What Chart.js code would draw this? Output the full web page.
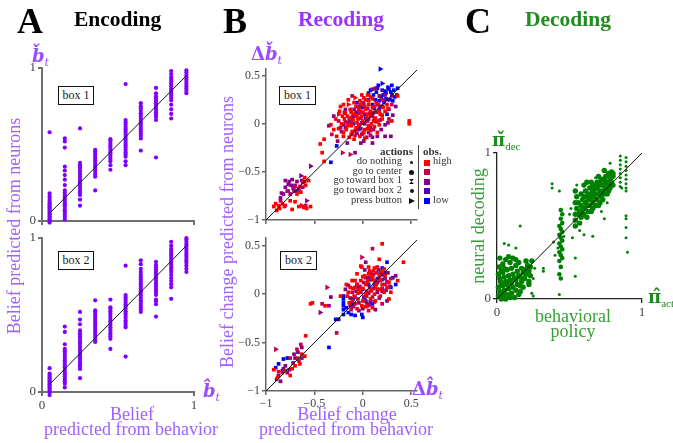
<!DOCTYPE html>
<html>
<head>
<meta charset="utf-8">
<script src="https://cdn.jsdelivr.net/npm/chart.js@4/dist/chart.umd.min.js"></script>
<style>
body { margin: 0; width: 673px; height: 443px; position: relative; overflow: hidden; background: #fff;
       font-family: "Liberation Serif", "DejaVu Serif", serif; }
canvas { position: absolute; left: 0; top: 0; }
.t { position: absolute; white-space: nowrap; line-height: 1; }
.title { font-weight: bold; font-size: 21.5px; }
.letter { font-weight: bold; font-size: 36px; }
.lab { font-size: 18px; }
.cx { transform: translateX(-50%); }
.rot { transform: translate(-50%, -50%) rotate(-90deg); }
.violet { color: #a062fb; }
.green { color: #35a035; }
.math { font-family: "DejaVu Serif", serif; font-weight: bold; font-style: italic; font-size: 18px; }
.math sub { font-size: 11px; font-style: italic; font-weight: normal; vertical-align: -4px; }
.boxlab { position: absolute; border: 1.2px solid #111; font-size: 12px; line-height: 17px; height: 19px;
          text-align: center; box-sizing: border-box; background: #fff; color: #222; }
.leg { position: absolute; font-size: 10.5px; line-height: 1; color: #333; white-space: nowrap; }
.mk { position: absolute; background: #111; }
</style>
</head>
<body>
<canvas id="encBox1" width="673" height="443"></canvas>
<canvas id="encBox2" width="673" height="443"></canvas>
<canvas id="recBox1" width="673" height="443"></canvas>
<canvas id="recBox2" width="673" height="443"></canvas>
<canvas id="decoding" width="673" height="443"></canvas>

<div class="t letter" style="left:17px;top:3px">A</div>
<div class="t title" style="left:74px;top:9px">Encoding</div>
<div class="t letter" style="left:223px;top:3px">B</div>
<div class="t title" style="left:298px;top:9px;color:#9933ff">Recoding</div>
<div class="t letter" style="left:465px;top:3px">C</div>
<div class="t title" style="left:525px;top:9px;color:#228b22">Decoding</div>

<div class="t lab violet rot" style="left:14px;top:226px">Belief predicted from neurons</div>
<div class="t lab violet cx" style="left:132px;top:405px">Belief</div>
<div class="t lab violet cx" style="left:131px;top:420px">predicted from behavior</div>
<div class="t lab violet rot" style="left:227px;top:232px">Belief change predicted from neurons</div>
<div class="t lab violet cx" style="left:347px;top:405px">Belief change</div>
<div class="t lab violet cx" style="left:346px;top:420px">predicted from behavior</div>
<div class="t lab green rot" style="left:478px;top:226px">neural decoding</div>
<div class="t lab green cx" style="left:573px;top:307px">behavioral</div>
<div class="t lab green cx" style="left:573px;top:322px">policy</div>

<div class="t math" style="left:32px;top:47px;color:#9a4dff">b̌<sub>t</sub></div>
<div class="t math" style="left:203px;top:382px;color:#9a4dff">b̂<sub>t</sub></div>
<div class="t math" style="left:251px;top:45px;color:#9a4dff"><span style="font-style:normal">Δ</span>b̌<sub>t</sub></div>
<div class="t math" style="left:412px;top:380px;color:#9a4dff"><span style="font-style:normal">Δ</span>b̂<sub>t</sub></div>
<div class="t math" style="left:492px;top:131px;color:#1d8a1d;font-style:normal">π̌<sub style="font-style:normal;font-family:'Liberation Serif'">dec</sub></div>
<div class="t math" style="left:648px;top:288px;color:#1d8a1d;font-style:normal">π̂<sub style="font-style:normal;font-family:'Liberation Serif'">act</sub></div>

<div class="boxlab" style="left:58px;top:86px;width:36px">box 1</div>
<div class="boxlab" style="left:58px;top:251px;width:36px">box 2</div>
<div class="boxlab" style="left:279px;top:86px;width:37px">box 1</div>
<div class="boxlab" style="left:280px;top:251px;width:37px">box 2</div>

<div class="leg" style="right:260px;top:146px;font-weight:bold;font-size:11px">actions</div>
<div class="leg" style="right:271px;top:155.5px">do nothing</div>
<div class="leg" style="right:271px;top:165.5px">go to center</div>
<div class="leg" style="right:271px;top:174.5px">go toward box 1</div>
<div class="leg" style="right:271px;top:184.5px">go toward box 2</div>
<div class="leg" style="right:271px;top:194.5px">press button</div>
<div class="mk" style="left:410px;top:161px;width:3px;height:3px;border-radius:50%"></div>
<div class="mk" style="left:409px;top:169.5px;width:5px;height:5px;border-radius:50%"></div>
<div class="mk" style="left:409px;top:179px;width:5px;height:5px;clip-path:polygon(0 0,100% 0,50% 50%,100% 100%,0 100%,50% 50%)"></div>
<div class="mk" style="left:409.5px;top:188.5px;width:4px;height:4px;border-radius:50%"></div>
<div class="mk" style="left:409px;top:198px;width:6px;height:6px;clip-path:polygon(0 0,100% 50%,0 100%)"></div>
<div class="mk" style="left:418px;top:145px;width:1.2px;height:64px;background:#444"></div>
<div class="leg" style="left:423px;top:146px;font-weight:bold;font-size:11px">obs.</div>
<div class="mk" style="left:424px;top:159.5px;width:6px;height:6px;background:#ff0000"></div>
<div class="mk" style="left:424px;top:169px;width:6px;height:6px;background:#c4004f"></div>
<div class="mk" style="left:424px;top:178.5px;width:6px;height:6px;background:#880088"></div>
<div class="mk" style="left:424px;top:187.5px;width:6px;height:6px;background:#5000cc"></div>
<div class="mk" style="left:424px;top:198px;width:6px;height:6px;background:#0000ff"></div>
<div class="leg" style="left:433px;top:155.5px">high</div>
<div class="leg" style="left:433px;top:194.5px">low</div>

<script>
// ---- A: belief from behaviour (columns) vs belief from neurons ----
const encColumns = [0.05, 0.15, 0.25, 0.35, 0.45, 0.55, 0.65, 0.75, 0.85, 0.95];
const encBox1Y = [
    [-0.01, 0, 0.01, 0.02, 0.03, 0.04, 0.05, 0.06, 0.07, 0.08, 0.09, 0.1, 0.11, 0.12, 0.13, 0.145, 0.16, 0.18, 0.58],
    [0.01, 0.03, 0.045, 0.06, 0.07, 0.085, 0.1, 0.11, 0.125, 0.14, 0.155, 0.17, 0.185, 0.2, 0.235, 0.27, 0.3, 0.33, 0.355, 0.48, 0.52, 0.54],
    [0.1, 0.14, 0.17, 0.185, 0.2, 0.215, 0.23, 0.245, 0.26, 0.275, 0.29, 0.305, 0.32, 0.335, 0.35, 0.365, 0.38, 0.605],
    [0.2, 0.29, 0.305, 0.32, 0.335, 0.35, 0.365, 0.38, 0.395, 0.41, 0.425, 0.44, 0.455, 0.465],
    [0.335, 0.365, 0.39, 0.405, 0.42, 0.435, 0.45, 0.465, 0.48, 0.495, 0.51, 0.525, 0.535],
    [0.365, 0.39, 0.42, 0.435, 0.45, 0.465, 0.48, 0.495, 0.51, 0.525, 0.54, 0.555, 0.57, 0.585, 0.6, 0.615, 0.63, 0.645, 0.66, 0.895],
    [0.46, 0.54, 0.555, 0.57, 0.585, 0.6, 0.615, 0.63, 0.645, 0.66, 0.675, 0.69, 0.705, 0.72, 0.735, 0.75, 0.77],
    [0.415, 0.66, 0.68, 0.695, 0.71, 0.725, 0.74, 0.755, 0.77, 0.785, 0.8, 0.815, 0.835, 0.87],
    [0.67, 0.7, 0.73, 0.76, 0.79, 0.805, 0.82, 0.835, 0.85, 0.865, 0.88, 0.895, 0.91, 0.925, 0.94, 0.96, 0.98],
    [0.835, 0.85, 0.865, 0.88, 0.895, 0.91, 0.925, 0.94, 0.955, 0.97, 0.985]
];
const encBox2Y = [
    [-0.02, -0.005, 0.01, 0.02, 0.03, 0.04, 0.05, 0.06, 0.07, 0.08, 0.09, 0.1, 0.11, 0.12, 0.155],
    [0.03, 0.054, 0.07, 0.085, 0.1, 0.115, 0.13, 0.145, 0.16, 0.175, 0.19, 0.205, 0.22, 0.235, 0.25, 0.265, 0.28, 0.31, 0.39, 0.425],
    [0.09, 0.15, 0.165, 0.18, 0.195, 0.21, 0.225, 0.24, 0.255, 0.27, 0.285, 0.3, 0.315, 0.33, 0.345, 0.36, 0.375, 0.39, 0.4, 0.44, 0.47, 0.52],
    [0.325, 0.34, 0.355, 0.37, 0.385, 0.4, 0.415, 0.43, 0.445, 0.46, 0.475, 0.49, 0.505, 0.52, 0.53, 0.595],
    [0.28, 0.345, 0.36, 0.375, 0.39, 0.405, 0.42, 0.435, 0.45, 0.465, 0.48, 0.495, 0.51, 0.525, 0.54, 0.55, 0.6],
    [0.23, 0.42, 0.435, 0.45, 0.465, 0.48, 0.495, 0.51, 0.525, 0.54, 0.555, 0.57, 0.585, 0.6, 0.615, 0.63, 0.82],
    [0.52, 0.535, 0.55, 0.565, 0.58, 0.595, 0.61, 0.625, 0.64, 0.655, 0.67, 0.685, 0.7, 0.715, 0.73, 0.745, 0.76, 0.78, 0.8, 0.83, 0.855],
    [0.49, 0.57, 0.59, 0.6, 0.63, 0.645, 0.66, 0.675, 0.69, 0.705, 0.72, 0.735, 0.75, 0.765, 0.78, 0.795, 0.81, 0.825, 0.845],
    [0.605, 0.68, 0.7, 0.72, 0.74, 0.76, 0.78, 0.795, 0.81, 0.825, 0.84, 0.855, 0.87, 0.885, 0.9, 0.915, 0.93, 0.95, 0.975],
    [0.78, 0.8, 0.82, 0.84, 0.855, 0.87, 0.885, 0.9, 0.915, 0.93, 0.945, 0.96, 0.975, 0.99, 1.0]
];
const encDiagonal = [0.05, 0.95];
const unitTicks = [0, 1];

// ---- B: belief change, points are [x, y] or [x, y, 4] for "press button" ----
const box1High = [[-0.23, 0.18], [-0.21, 0.08], [-0.18, 0.11], [-0.13, 0.15], [-0.09, 0.22], [-0.08, 0.27, 4], [-0.01, 0.3],
    [0.03, 0.25], [-0.04, 0.15], [-0.01, 0.08], [0.06, 0.2], [0.1, 0.17], [0.18, 0.1], [0.23, 0.13], [0.36, 0.29], [0.3, 0.03],
    [0.48, 0.03], [0.48, 0.0], [-0.16, -0.02], [-0.11, -0.08], [-0.06, 0.01], [-0.2, -0.09], [-0.14, -0.14], [-0.09, -0.16],
    [-0.27, -0.13], [-0.3, -0.06], [-0.33, -0.01], [-0.4, -0.16], [-0.44, -0.21], [-0.4, -0.39], [0.06, -0.02], [0.11, 0.03],
    [0.17, -0.01], [0.15, -0.09], [-0.13, 0.06], [0.03, 0.15], [0.08, 0.08], [-0.42, -0.3], [-0.05, 0.05], [0.0, 0.12],
    [0.05, 0.1], [-0.1, 0.1], [0.12, 0.12], [-0.07, -0.04], [0.02, -0.06], [0.2, 0.05], [0.25, 0.2], [-0.15, 0.2, 4],
    [-0.25, 0.1, 4], [0.14, 0.22], [-0.02, 0.2], [0.08, 0.28, 4], [-0.12, -0.02],
    [-0.25, -0.05], [-0.22, 0.0], [-0.19, 0.05], [-0.16, 0.08], [-0.12, 0.12], [-0.07, 0.18], [-0.03, 0.24], [0.01, 0.27],
    [0.05, 0.3], [-0.2, -0.13], [-0.17, -0.06], [-0.14, -0.01], [-0.1, 0.04], [-0.06, 0.09], [-0.02, 0.13], [0.02, 0.18],
    [0.06, 0.24], [0.1, 0.26], [-0.12, -0.11], [-0.08, -0.07], [-0.04, -0.02], [0.0, 0.03], [0.04, 0.07], [0.08, 0.13],
    [0.12, 0.18], [0.16, 0.2], [-0.03, -0.13], [0.01, -0.09], [0.05, -0.05], [0.09, 0.0], [0.13, 0.06], [0.17, 0.13],
    [0.21, 0.17], [0.02, -0.15], [0.08, -0.07], [0.12, -0.03], [0.16, 0.03], [0.2, 0.09], [0.26, 0.16], [-0.28, 0.05],
    [-0.24, 0.13], [-0.2, 0.2], [-0.15, 0.25],
    [-0.56, -0.59], [-0.59, -0.64], [-0.64, -0.71], [-0.68, -0.73], [-0.9, -0.83], [-0.87, -0.85], [-0.83, -0.83],
    [-0.89, -0.9], [-0.73, -0.89], [-0.61, -0.87], [-0.58, -0.88], [-0.54, -0.86], [-0.7, -0.81], [-0.62, -0.61], [-0.75, -0.8],
    [-0.86, -0.88], [-0.81, -0.86], [-0.66, -0.86], [-0.92, -0.86], [-0.6, -0.56], [-0.65, -0.65]];
const box1MidHigh = [[-0.13, -0.32, 4], [-0.21, -0.3, 4], [-0.11, 0.29], [0.2, 0.25], [-0.25, 0.03], [0.0, -0.1], [0.12, 0.05],
    [-0.05, 0.18], [0.27, 0.05], [-0.32, -0.11], [0.08, -0.12], [-0.63, -0.85, 4], [-0.59, -0.85], [-0.8, -0.85], [-0.85, -0.8],
    [-0.7, -0.66, 4], [-0.77, -0.7], [-0.6, -0.6], [0.3, 0.2], [-0.18, 0.02], [0.04, 0.03],
    [-0.12, 0.02], [-0.02, 0.06], [0.07, 0.11], [0.14, 0.02], [-0.08, -0.12], [0.0, 0.22], [-0.19, 0.12]];
const box1Mid = [[-0.3, 0.08], [-0.2, -0.01], [-0.14, 0.04], [-0.08, 0.08], [-0.04, -0.06], [-0.01, -0.11], [0.01, -0.18],
    [-0.02, -0.2], [0.06, -0.09], [0.1, -0.14], [0.15, -0.13], [0.23, -0.13], [0.29, -0.13], [0.13, 0.37], [0.1, 0.36],
    [0.17, 0.29], [0.23, 0.3], [0.3, 0.29], [0.34, 0.18], [-0.18, 0.15], [-0.23, -0.04], [-0.08, -0.3], [-0.35, -0.02],
    [-0.09, 0.15], [-0.01, 0.01], [0.05, 0.03], [-0.04, 0.11], [0.08, -0.04], [0.18, 0.04], [0.23, -0.01], [0.27, 0.15],
    [-0.22, -0.08], [-0.18, -0.04], [-0.15, 0.01], [-0.11, 0.07], [-0.07, 0.12], [-0.03, 0.17], [0.01, 0.21], [0.05, 0.16],
    [-0.06, -0.1], [-0.02, -0.05], [0.02, 0.0], [0.06, 0.05], [0.1, 0.08], [0.14, 0.12], [0.18, 0.18], [0.22, 0.24],
    [0.04, -0.14], [0.11, -0.06], [0.19, -0.06], [0.26, 0.01], [0.31, 0.09], [-0.26, -0.18], [-0.16, -0.2], [0.1, -0.2],
    [-0.8, -0.59], [-0.77, -0.63], [-0.73, -0.58], [-0.7, -0.64], [-0.71, -0.7], [-0.66, -0.68], [-0.63, -0.59],
    [-0.64, -0.54, 4], [-0.78, -0.7], [-0.75, -0.73], [-0.82, -0.73], [-0.85, -0.77], [-0.54, -0.44, 4], [-0.58, -0.8, 4],
    [-0.68, -0.6], [-0.76, -0.6], [-0.72, -0.67], [-0.68, -0.7], [-0.8, -0.66], [-0.84, -0.72], [-0.74, -0.64], [-0.62, -0.66]];
const box1MidLow = [[0.02, 0.1], [0.15, 0.2], [-0.1, 0.0], [0.25, 0.25], [0.2, 0.35], [-0.06, 0.12]];
const box1Low = [[0.06, 0.32], [0.15, 0.37], [0.2, 0.42, 4], [0.27, 0.36], [0.32, 0.35], [0.36, 0.37], [0.13, 0.25], [0.22, 0.22],
    [0.17, 0.15], [0.1, 0.11], [0.0, 0.17], [-0.06, 0.22], [0.25, 0.1], [0.03, 0.06], [-0.04, -0.01], [0.18, 0.57, 4],
    [-0.33, -0.4], [-0.27, -0.23], [0.3, 0.3], [0.24, 0.32], [0.19, 0.28], [0.28, 0.25], [0.1, 0.2], [0.33, 0.28],
    [0.08, 0.35], [0.11, 0.3], [0.14, 0.33], [0.17, 0.24], [0.21, 0.3], [0.24, 0.26], [0.26, 0.38], [0.29, 0.33], [0.31, 0.24],
    [0.35, 0.3], [0.2, 0.18], [0.12, 0.16], [0.23, 0.34], [0.05, 0.25], [0.16, 0.4], [0.3, 0.4]];

const box2High = [[-0.01, 0.28], [-0.02, 0.29], [0.2, 0.52], [0.42, 0.33], [0.17, 0.36], [0.06, 0.21], [0.17, 0.19], [0.22, 0.26],
    [0.11, 0.24], [-0.08, 0.14], [-0.13, 0.07], [-0.04, 0.05], [0.03, 0.1], [0.13, 0.07], [0.2, 0.1], [0.25, 0.07], [0.29, 0.02],
    [-0.16, -0.02], [-0.11, -0.07], [-0.01, -0.12], [0.06, -0.17], [0.13, -0.07], [0.18, -0.02], [-0.23, -0.02], [-0.52, -0.09],
    [-0.54, -0.1], [-0.39, -0.12], [-0.06, 0.21], [0.03, 0.0], [0.08, 0.03], [0.36, 0.14], [0.27, -0.05], [0.1, 0.15],
    [-0.05, -0.05], [0.15, 0.28], [0.0, 0.18],
    [-0.15, 0.02], [-0.1, 0.06], [-0.06, 0.1], [-0.02, 0.14], [0.02, 0.19], [0.07, 0.24], [0.12, 0.27], [-0.14, -0.09],
    [-0.09, -0.02], [-0.05, 0.01], [0.0, 0.06], [0.05, 0.14], [0.09, 0.19], [0.14, 0.22], [0.19, 0.23], [-0.06, -0.15],
    [0.0, -0.07], [0.04, -0.02], [0.09, 0.04], [0.14, 0.1], [0.18, 0.15], [0.23, 0.19], [0.27, 0.12], [0.03, -0.13],
    [0.08, -0.05], [0.12, 0.0], [0.17, 0.05], [0.22, 0.02], [0.1, -0.14], [-0.17, 0.1], [-0.11, 0.14], [0.06, 0.28],
    [-0.59, -0.43], [-0.75, -0.84], [-0.92, -0.78], [-0.7, -0.74], [-0.63, -0.62], [-0.8, -0.79], [-0.88, -0.86], [-0.67, -0.66],
    [-0.87, -0.8], [-0.73, -0.77], [-0.65, -0.72], [-0.6, -0.64]];
const box2MidHigh = [[-0.11, 0.02], [-0.02, 0.02], [0.1, -0.03], [0.23, 0.1], [0.1, 0.16], [-0.01, 0.38, 4], [0.1, 0.47],
    [-0.37, 0.07, 4], [-0.42, -0.1], [-0.27, -0.4], [-0.08, -0.1], [0.2, -0.1], [0.29, 0.16], [-0.9, -0.57, 4], [-0.64, -0.52],
    [-0.68, -0.57], [-0.75, -0.66], [-0.66, -0.69], [-0.83, -0.81], [0.05, 0.12], [0.15, 0.05],
    [-0.08, 0.07], [0.04, 0.03], [0.13, 0.14], [0.2, 0.06], [-0.12, -0.16], [0.08, 0.22], [0.25, 0.13], [0.05, -0.12]];
const box2Mid = [[-0.08, -0.03], [0.01, -0.03], [0.04, -0.09], [0.15, 0.02], [0.2, 0.03], [0.23, 0.16], [0.18, 0.14], [0.03, 0.17],
    [0.03, 0.33], [-0.04, -0.17], [-0.13, -0.12], [0.25, -0.07], [-0.33, -0.03], [-0.35, -0.12], [-0.44, -0.19, 4], [-0.18, 0.05],
    [0.13, -0.16], [0.34, 0.19], [0.07, 0.07], [-0.06, 0.1],
    [-0.13, -0.04], [-0.07, 0.03], [-0.03, 0.08], [0.01, 0.12], [0.06, 0.17], [0.11, 0.2], [0.16, 0.25], [-0.1, -0.13],
    [-0.04, -0.09], [0.02, -0.05], [0.06, 0.01], [0.11, 0.06], [0.15, 0.12], [0.2, 0.15], [0.26, 0.22], [0.0, -0.15],
    [0.07, -0.11], [0.12, -0.08], [0.17, -0.04], [0.24, 0.04], [0.28, 0.08], [-0.15, 0.09], [0.02, 0.25],
    [-0.63, -0.55], [-0.71, -0.62], [-0.63, -0.66], [-0.72, -0.71], [-0.8, -0.74], [-0.76, -0.78], [-0.87, -0.84], [-0.89, -0.88],
    [-0.78, -0.81], [-0.85, -0.9], [-0.7, -0.66], [-0.67, -0.6], [-0.82, -0.77]];
const box2MidLow = [[0.0, 0.05], [0.12, 0.1], [-0.1, -0.05], [0.2, 0.2], [0.08, -0.08]];
const box2Low = [[-0.2, -0.05], [-0.2, -0.09], [-0.2, -0.12], [-0.2, -0.16], [-0.2, -0.21], [-0.28, -0.26], [-0.25, -0.26],
    [-0.15, -0.19], [-0.08, -0.22], [-0.01, -0.21], [-0.11, -0.1], [-0.04, 0.07], [0.06, 0.1], [0.13, 0.12], [0.18, 0.21],
    [0.25, 0.33], [0.23, 0.22], [0.34, 0.1], [0.03, -0.07], [0.1, -0.1], [-0.35, -0.55], [-0.82, -0.67], [-0.78, -0.66],
    [-0.9, -0.76], [-0.87, -0.72], [-0.83, -0.79],
    [-0.2, -0.02], [-0.17, -0.14], [-0.12, -0.21], [0.0, -0.24], [0.15, 0.16], [0.2, 0.27], [0.08, 0.15], [0.29, 0.07], [0.31, 0.17]];
const recDiagonal = [-1, 0.6];
const recTicks = [-1, -0.5, 0, 0.5];

// ---- C: behavioural policy vs neural decoding ----
const decLowBlob = [[0.01, 0.02], [0.02, 0.05], [0.01, 0.08], [0.03, 0.11], [0.02, 0.14], [0.01, 0.17], [0.03, 0.19], [0.04, 0.02],
    [0.05, 0.06], [0.04, 0.09], [0.06, 0.12], [0.05, 0.15], [0.04, 0.18], [0.07, 0.03], [0.08, 0.07], [0.07, 0.1], [0.09, 0.13],
    [0.08, 0.16], [0.07, 0.2], [0.1, 0.04], [0.11, 0.08], [0.1, 0.11], [0.12, 0.14], [0.11, 0.17], [0.1, 0.21], [0.13, 0.06],
    [0.14, 0.1], [0.13, 0.13], [0.15, 0.16], [0.14, 0.19], [0.13, 0.23], [0.16, 0.09], [0.17, 0.12], [0.16, 0.15], [0.18, 0.18],
    [0.17, 0.21], [0.19, 0.14], [0.2, 0.17], [0.19, 0.2], [0.21, 0.23], [0.2, 0.26], [0.22, 0.12], [0.22, 0.19], [0.23, 0.22],
    [0.24, 0.26], [0.22, 0.1], [0.23, 0.16], [0.02, 0.28], [0.04, 0.24], [0.06, 0.27], [0.09, 0.25], [0.11, 0.28], [0.12, 0.01],
    [0.15, 0.03], [0.06, 0.0], [0.09, 0.01], [0.03, 0.0], [0.015, 0.22], [0.05, 0.21], [0.16, 0.05], [0.18, 0.08], [0.08, 0.29],
    [0.13, 0.27], [0.15, 0.25], [0.025, 0.12], [0.045, 0.04]];
const decMidColumn = [[0.44, 0.14], [0.43, 0.17], [0.44, 0.22], [0.43, 0.26], [0.45, 0.28], [0.44, 0.3], [0.43, 0.32], [0.45, 0.34],
    [0.44, 0.36], [0.43, 0.38], [0.45, 0.4], [0.44, 0.42], [0.43, 0.44], [0.45, 0.46], [0.44, 0.48], [0.43, 0.5], [0.45, 0.52],
    [0.44, 0.55], [0.45, 0.58], [0.44, 0.61]];
const decHighCluster = [[0.54, 0.5], [0.54, 0.54], [0.54, 0.58], [0.55, 0.62], [0.54, 0.66], [0.55, 0.7], [0.54, 0.74], [0.57, 0.52],
    [0.58, 0.56], [0.57, 0.6], [0.58, 0.64], [0.59, 0.68], [0.6, 0.58], [0.6, 0.62], [0.61, 0.66], [0.62, 0.7], [0.61, 0.74],
    [0.63, 0.6], [0.64, 0.64], [0.63, 0.68], [0.65, 0.72], [0.64, 0.76], [0.66, 0.66], [0.67, 0.7], [0.66, 0.74], [0.68, 0.78],
    [0.69, 0.68], [0.7, 0.72], [0.69, 0.76], [0.71, 0.8], [0.72, 0.7], [0.73, 0.74], [0.72, 0.78], [0.74, 0.82], [0.75, 0.76],
    [0.76, 0.8], [0.75, 0.84], [0.77, 0.78], [0.78, 0.82], [0.77, 0.86], [0.79, 0.8], [0.8, 0.84], [0.79, 0.87], [0.6, 0.78],
    [0.62, 0.8], [0.65, 0.8], [0.7, 0.84], [0.74, 0.88], [0.58, 0.72], [0.56, 0.66], [0.66, 0.62], [0.7, 0.64], [0.73, 0.68],
    [0.76, 0.72], [0.62, 0.56], [0.65, 0.6], [0.68, 0.64], [0.71, 0.66], [0.78, 0.76], [0.8, 0.78],
    [0.6, 0.7], [0.63, 0.72], [0.66, 0.78], [0.69, 0.8], [0.72, 0.82], [0.75, 0.8], [0.78, 0.84], [0.8, 0.86], [0.67, 0.75],
    [0.7, 0.78], [0.73, 0.78], [0.76, 0.76], [0.62, 0.64], [0.65, 0.68], [0.68, 0.72], [0.71, 0.74], [0.74, 0.72], [0.77, 0.74],
    [0.64, 0.7], [0.59, 0.62], [0.56, 0.58], [0.58, 0.6]];
const decRightColumns = [[0.85, 0.98], [0.85, 0.95], [0.85, 0.92], [0.85, 0.89], [0.85, 0.86], [0.85, 0.83], [0.85, 0.8], [0.85, 0.77],
    [0.89, 0.97], [0.89, 0.94], [0.89, 0.91], [0.89, 0.88], [0.89, 0.85], [0.89, 0.82], [0.89, 0.79], [0.89, 0.76], [0.89, 0.74],
    [0.86, 0.76], [0.89, 0.57], [0.89, 0.55], [0.89, 0.49], [0.89, 0.42], [0.9, 0.32]];
const decScatter = [[0.16, 0.5], [0.05, 0.38], [0.08, 0.37], [0.13, 0.35], [0.24, 0.04], [0.25, 0.02], [0.32, 0.21], [0.32, 0.19],
    [0.26, 0.21], [0.25, 0.14], [0.43, 0.74], [0.43, 0.03], [0.38, 0.79], [0.38, 0.76], [0.4, 0.3], [0.39, 0.39], [0.42, 0.35],
    [0.46, 0.43], [0.55, 0.78], [0.68, 0.83], [0.78, 0.93], [0.74, 0.55], [0.66, 0.43], [0.6, 0.44], [0.52, 0.42], [0.54, 0.28],
    [0.54, 0.155], [0.72, 0.6], [0.76, 0.66], [0.5, 0.58], [0.51, 0.62], [0.57, 0.47]];
const decDiagonal = [0, 1];

const serif = '"Liberation Serif", "DejaVu Serif", serif';
const obsColors = ['#ff0000', '#c4004f', '#880088', '#5000cc', '#0000ff'];
const yAxisWidth = 36;
const xAxisHeight = 22;

function axis(position, range, ticks, showLabels, look) {
    return {
        type: 'linear',
        position: position,
        min: range[0],
        max: range[1],
        afterFit: function (scale) {
            if (position === 'left') {
                scale.width = yAxisWidth;
            } else {
                scale.height = xAxisHeight;
            }
        },
        afterBuildTicks: function (scale) {
            scale.ticks = ticks.map(v => ({value: v}));
        },
        grid: {drawOnChartArea: false, drawTicks: true, tickLength: 4, color: look.color, lineWidth: look.width},
        border: {display: true, color: look.color, width: look.width},
        ticks: {
            padding: 2,
            autoSkip: false,
            maxRotation: 0,
            color: '#444',
            font: {family: serif, size: look.font},
            callback: v => showLabels ? String(v).replace('-', '\u2212') : ''
        }
    };
}

function diagonalSet(ends) {
    return {
        data: ends.map(v => ({x: v, y: v})),
        showLine: true,
        borderColor: '#111',
        borderWidth: 1,
        pointRadius: 0
    };
}

function drawPanel(id, area, xRange, yRange, xTicks, yTicks, showX, look, datasets) {
    const canvas = document.getElementById(id);
    new Chart(canvas, {
        type: 'scatter',
        data: {datasets: datasets},
        options: {
            responsive: false,
            animation: false,
            events: [],
            layout: {padding: {left: area[0] - yAxisWidth, top: area[1], right: 673 - area[2],
                bottom: 443 - area[3] - xAxisHeight}},
            scales: {
                x: axis('bottom', xRange, xTicks, showX, look),
                y: axis('left', yRange, yTicks, true, look)
            },
            plugins: {legend: {display: false}, tooltip: {enabled: false}}
        }
    });
}

function columnPoints(columns, ys) {
    return columns.flatMap((x, i) => ys[i].map(y => ({x: x, y: y})));
}

function encodingSets(ys) {
    return [
        diagonalSet(encDiagonal),
        {data: columnPoints(encColumns, ys), pointRadius: 2.1, pointBorderWidth: 0,
            pointBackgroundColor: '#8000ff', clip: 6}
    ];
}

function obsSet(points, color) {
    return {
        data: points.map(p => ({x: p[0], y: p[1], a: p[2] || 2})),
        pointBackgroundColor: color,
        pointBorderWidth: 0,
        pointStyle: ctx => (ctx.raw && ctx.raw.a === 4) ? 'triangle' : 'rect',
        rotation: ctx => (ctx.raw && ctx.raw.a === 4) ? 90 : 0,
        pointRadius: ctx => (ctx.raw && ctx.raw.a === 4) ? 3.2 : 2.6,
        clip: 6
    };
}

function recodingSets(groups) {
    return [diagonalSet(recDiagonal)].concat(groups.map((g, i) => obsSet(g, obsColors[i])));
}

function greenSet(points, radius) {
    return {data: points.map(p => ({x: p[0], y: p[1]})), pointRadius: radius, pointBorderWidth: 0,
        pointBackgroundColor: '#008000', clip: 6};
}

const lookA = {color: '#707070', width: 2, font: 13};
const lookB = {color: '#666', width: 1.5, font: 12};
const lookC = {color: '#222', width: 1.3, font: 13};

drawPanel('encBox1', [42, 68, 194, 221], [0, 1], [0, 1], unitTicks, unitTicks, false, lookA, encodingSets(encBox1Y));
drawPanel('encBox2', [42, 238, 194, 392], [0, 1], [0, 1], unitTicks, unitTicks, true, lookA, encodingSets(encBox2Y));

drawPanel('recBox1', [266, 69, 417, 220], [-1, 0.56], [-1, 0.57], recTicks, recTicks, false, lookB,
    recodingSets([box1High, box1MidHigh, box1Mid, box1MidLow, box1Low]));
drawPanel('recBox2', [266, 238, 417, 391], [-1, 0.56], [-1, 0.58], recTicks, recTicks, true, lookB,
    recodingSets([box2High, box2MidHigh, box2Mid, box2MidLow, box2Low]));

drawPanel('decoding', [497, 153, 642, 299], [0, 1], [0, 1], unitTicks, unitTicks, true, lookC, [
    diagonalSet(decDiagonal),
    greenSet(decLowBlob, 2.7),
    greenSet(decMidColumn, 2.3),
    greenSet(decHighCluster, 2.7),
    greenSet(decRightColumns, 1.5),
    greenSet(decScatter, 1.5)
]);
</script>
</body>
</html>
